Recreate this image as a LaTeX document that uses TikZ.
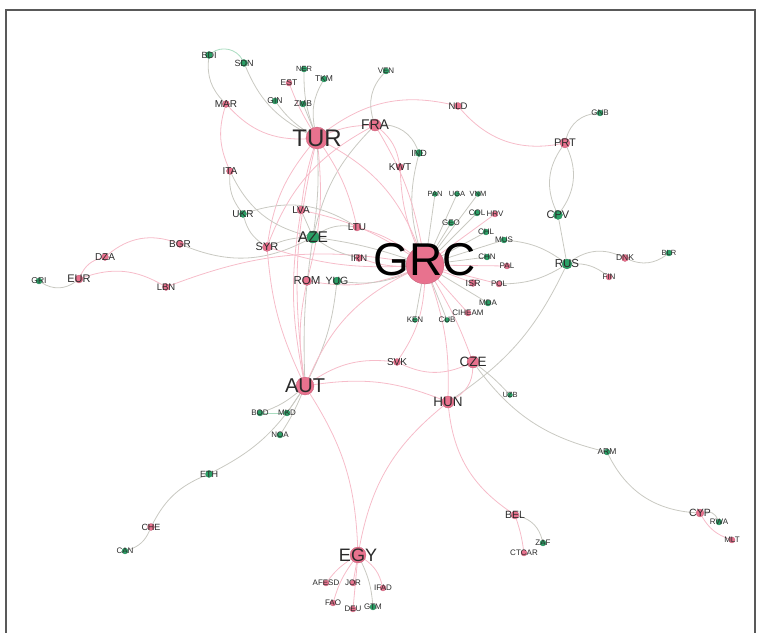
\documentclass[tikz,border=0pt]{standalone}
\usepackage{fontspec}
\setmainfont{Liberation Sans}
\usepackage{xcolor}
\usepackage{tikz}
\usetikzlibrary{positioning}

\definecolor{rose}{HTML}{E8728E}
\definecolor{leaf}{HTML}{2AA066}
\definecolor{pinkedge}{HTML}{F6BCC9}
\definecolor{greyedge}{HTML}{C9C9C2}
\definecolor{greenedge}{HTML}{A9DCC0}
\definecolor{labelgrey}{HTML}{2A2A2A}

\pgfdeclarelayer{bg}
\pgfsetlayers{bg,main}

\begin{document}
\begin{tikzpicture}[x=1pt, y=-1pt,
    pk/.style={circle, fill=rose, draw=rose!80!black, line width=0.25pt, inner sep=0pt, minimum size=#1},
    gr/.style={circle, fill=leaf, draw=leaf!80!black, line width=0.25pt, inner sep=0pt, minimum size=#1},
    lb/.style={font=\fontsize{#1}{#1}\selectfont, text=labelgrey, inner sep=0pt},
    pp/.style={draw=pinkedge, line width=0.8pt},
    gg/.style={draw=greyedge, line width=0.8pt},
    ll/.style={draw=greenedge, line width=0.8pt}
]
\useasboundingbox (0,0) rectangle (757,632);
\draw[black!65, line width=1.2pt] (6,640) -- (6,10) -- (755,10) -- (755,640);

% top
\node[gr=7, label={[lb=9]center:BDI}] (BDI) at (209,55) {};
\node[gr=7, label={[lb=9]center:SDN}] (SDN) at (244,63) {};
\node[gr=6, label={[lb=7.5]center:NER}] (NER) at (304,69) {};
\node[gr=6, label={[lb=8.5]center:TKM}] (TKM) at (324,79) {};
\node[pk=6, label={[lb=8.5]center:EST}] (EST) at (289,83) {};
\node[gr=6, label={[lb=8.5]center:GIN}] (GIN) at (275,101) {};
\node[gr=6, label={[lb=8.5]center:ZMB}] (ZMB) at (303,104) {};
\node[pk=7, label={[lb=10]center:MAR}] (MAR) at (226,104) {};
\node[pk=22, label={[lb=24]center:TUR}] (TUR) at (317,138) {};
\node[gr=6, label={[lb=8]center:VEN}] (VEN) at (386,71) {};
\node[pk=7, label={[lb=9.5]center:NLD}] (NLD) at (458,106) {};
\node[pk=12, label={[lb=14]center:FRA}] (FRA) at (375,125) {};
\node[gr=6, label={[lb=8]center:GNB}] (GNB) at (600,113) {};
\node[pk=10, label={[lb=11]center:PRT}] (PRT) at (565,143) {};
\node[gr=7, label={[lb=9]center:IND}] (IND) at (419,153) {};
\node[pk=7, label={[lb=10]center:KWT}] (KWT) at (400,167) {};

% left
\node[pk=7, label={[lb=10]center:ITA}] (ITA) at (230,171) {};
\node[gr=7, label={[lb=10]center:UKR}] (UKR) at (243,214) {};
\node[pk=7, label={[lb=10]center:BGR}] (BGR) at (180,244) {};
\node[pk=9, label={[lb=11]center:SYR}] (SYR) at (267,247) {};
\node[pk=7, label={[lb=10]center:DZA}] (DZA) at (105,257) {};
\node[pk=8, label={[lb=11]center:EUR}] (EUR) at (79,279) {};
\node[gr=6, label={[lb=8.5]center:GRI}] (GRI) at (39,281) {};
\node[pk=7, label={[lb=9.5]center:LBN}] (LBN) at (166,287) {};
\node[pk=8, label={[lb=10]center:LVA}] (LVA) at (301,210) {};
\node[gr=12, label={[lb=15.5]center:AZE}] (AZE) at (313,237) {};
\node[pk=8, label={[lb=10]center:LTU}] (LTU) at (357,227) {};
\node[pk=7, label={[lb=9.5]center:IRN}] (IRN) at (359,258) {};
\node[pk=9, label={[lb=11.5]center:ROM}] (ROM) at (307,281) {};
\node[gr=8, label={[lb=10.5]center:YUG}] (YUG) at (337,281) {};

% centre
\node[pk=38, label={[lb=46, text=black, yshift=5pt]center:GRC}] (GRC) at (425,265) {};
\node[gr=5, label={[lb=7.5]center:PAN}] (PAN) at (435,194) {};
\node[gr=5, label={[lb=7.5]center:UGA}] (UGA) at (457,194) {};
\node[gr=5, label={[lb=7.5]center:VNM}] (VNM) at (478,194) {};
\node[gr=6, label={[lb=8]center:GEO}] (GEO) at (451,223) {};
\node[gr=6, label={[lb=8]center:COL}] (COL) at (477,213) {};
\node[pk=6, label={[lb=8]center:HRV}] (HRV) at (495,214) {};
\node[gr=6, label={[lb=8]center:CHL}] (CHL) at (486,232) {};
\node[gr=6, label={[lb=8]center:MUS}] (MUS) at (504,240) {};
\node[gr=6, label={[lb=8]center:CHN}] (CHN) at (487,257) {};
\node[pk=6, label={[lb=8]center:PAL}] (PAL) at (507,266) {};
\node[pk=7, label={[lb=9]center:ISR}] (ISR) at (473,283) {};
\node[pk=6, label={[lb=8]center:POL}] (POL) at (499,284) {};
\node[gr=6, label={[lb=8]center:MDA}] (MDA) at (488,303) {};
\node[pk=6, label={[lb=8]center:CIHEAM}] (CIHEAM) at (468,313) {};
\node[gr=5, label={[lb=8]center:KEN}] (KEN) at (415,320) {};
\node[gr=5, label={[lb=8]center:CUB}] (CUB) at (447,320) {};

% right
\node[gr=9, label={[lb=11]center:CPV}] (CPV) at (558,215) {};
\node[gr=10, label={[lb=11.5]center:RUS}] (RUS) at (567,264) {};
\node[pk=7, label={[lb=8.5]center:DNK}] (DNK) at (625,258) {};
\node[gr=6, label={[lb=7.5]center:BLR}] (BLR) at (669,253) {};
\node[pk=6, label={[lb=8]center:FIN}] (FIN) at (609,277) {};

% lower half
\node[pk=7, label={[lb=10]center:SVK}] (SVK) at (397,362) {};
\node[pk=12, label={[lb=13.5]center:CZE}] (CZE) at (473,362) {};
\node[pk=18, label={[lb=20]center:AUT}] (AUT) at (305,386) {};
\node[pk=12, label={[lb=13.5]center:HUN}] (HUN) at (448,402) {};
\node[gr=6, label={[lb=8]center:BOD}] (BOD) at (260,413) {};
\node[gr=6, label={[lb=8]center:MKD}] (MKD) at (287,413) {};
\node[gr=6, label={[lb=8]center:NOA}] (NOA) at (280,435) {};
\node[gr=5, label={[lb=7.5]center:UZB}] (UZB) at (510,395) {};
\node[gr=6, label={[lb=8.5]center:ARM}] (ARM) at (607,452) {};
\node[gr=7, label={[lb=9]center:ETH}] (ETH) at (209,474) {};
\node[pk=7, label={[lb=9]center:CHE}] (CHE) at (151,527) {};
\node[gr=6, label={[lb=8]center:CAN}] (CAN) at (125,551) {};
\node[pk=16, label={[lb=18]center:EGY}] (EGY) at (358,555) {};
\node[pk=6, label={[lb=8]center:AFESD}] (AFESD) at (326,583) {};
\node[pk=6, label={[lb=8]center:JOR}] (JOR) at (353,583) {};
\node[pk=6, label={[lb=8]center:IFAD}] (IFAD) at (383,588) {};
\node[pk=6, label={[lb=8]center:FAO}] (FAO) at (333,603) {};
\node[pk=6, label={[lb=8]center:DEU}] (DEU) at (353,609) {};
\node[gr=6, label={[lb=8]center:GTM}] (GTM) at (373,607) {};
\node[pk=8, label={[lb=10.5]center:BEL}] (BEL) at (515,515) {};
\node[gr=6, label={[lb=8]center:ZAF}] (ZAF) at (543,543) {};
\node[pk=6, label={[lb=8]center:CTCAR}] (CTCAR) at (524,553) {};
\node[pk=8, label={[lb=10.5]center:CYP}] (CYP) at (700,513) {};
\node[gr=6, label={[lb=8]center:RWA}] (RWA) at (719,522) {};
\node[pk=6, label={[lb=8]center:MLT}] (MLT) at (732,540) {};

\begin{pgfonlayer}{bg}
% top
\draw[ll] (BDI) to[bend left=50] (SDN);
\draw[gg] (BDI) to[bend right=25] (MAR);
\draw[gg] (SDN) to[bend right=20] (TUR);
\draw[gg] (GIN) to[bend right=10] (TUR);
\draw[pp] (EST) to[bend right=5] (TUR);
\draw[gg] (NER) to[bend right=10] (TUR);
\draw[gg] (TKM) to[bend right=20] (TUR);
\draw[gg] (ZMB) to (TUR);
\draw[pp] (MAR) to[bend right=25] (TUR);
\draw[pp] (MAR) to[bend right=20] (ITA);
\draw[pp] (TUR) to[bend left=10] (FRA);
\draw[pp] (TUR) to[bend left=25] (NLD);
\draw[pp] (NLD) to[bend right=30] (PRT);
\draw[gg] (PRT) to[bend left=35] (GNB);
\draw[gg] (PRT) to[bend right=30] (CPV);
\draw[gg] (CPV) to[bend right=30] (PRT);
\draw[gg] (CPV) to (RUS);
\draw[gg] (VEN) to[bend right=30] (FRA);
\draw[gg] (FRA) to[bend left=35] (IND);
\draw[gg] (IND) to[bend right=15] (GRC);
\draw[pp] (FRA) to[bend left=20] (KWT);
\draw[pp] (KWT) to[bend right=10] (GRC);
\draw[pp] (FRA) to[bend left=10] (GRC);
\draw[pp] (FRA) to[bend right=20] (SYR);
\draw[gg] (FRA) to[bend right=15] (AZE);
\draw[pp] (TUR) to[bend left=20] (GRC);
\draw[pp] (TUR) to[bend left=10] (LTU);
\draw[pp] (TUR) to[bend right=5] (LVA);
\draw[pp] (TUR) to[bend right=15] (SYR);
\draw[pp] (TUR) to[bend left=10] (ROM);
\draw[pp] (TUR) to[bend right=10] (AUT);
\draw[gg] (TUR) to[bend left=5] (AZE);
% left
\draw[gg] (ITA) to[bend right=20] (UKR);
\draw[gg] (ITA) to[bend right=25] (AZE);
\draw[gg] (UKR) to[bend right=20] (SYR);
\draw[gg] (UKR) to[bend left=25] (LTU);
\draw[pp] (EUR) to[bend left=25] (DZA);
\draw[pp] (DZA) to[bend left=30] (BGR);
\draw[gg] (GRI) to[bend right=35] (EUR);
\draw[pp] (EUR) to[bend left=25] (LBN);
\draw[pp] (LBN) to[bend left=15] (GRC);
\draw[gg] (BGR) to[bend right=25] (AZE);
\draw[gg] (SYR) to[bend left=10] (AZE);
\draw[pp] (SYR) to[bend right=10] (GRC);
\draw[pp] (SYR) to[bend right=10] (AUT);
\draw[gg] (AZE) to[bend left=20] (LTU);
\draw[pp] (LTU) to[bend left=10] (GRC);
\draw[gg] (AZE) to[bend right=10] (IRN);
\draw[pp] (IRN) to[bend right=10] (GRC);
\draw[gg] (AZE) to[bend left=5] (GRC);
\draw[gg] (LVA) to (AZE);
\draw[pp] (LVA) to[bend left=10] (GRC);
\draw[pp] (LVA) to[bend right=10] (AUT);
\draw[pp] (ROM) to[bend right=15] (GRC);
\draw[gg] (YUG) to[bend right=15] (GRC);
\draw[pp] (ROM) to[bend right=10] (AUT);
\draw[gg] (YUG) to[bend left=10] (AUT);
\draw[gg] (AZE) to[bend right=5] (AUT);
% centre
\draw[gg] (GRC) to (PAN);
\draw[gg] (GRC) to (UGA);
\draw[gg] (GRC) to (VNM);
\draw[gg] (GRC) to (GEO);
\draw[gg] (GRC) to (COL);
\draw[pp] (GRC) to (HRV);
\draw[gg] (GRC) to (CHL);
\draw[gg] (GRC) to (MUS);
\draw[gg] (GRC) to (CHN);
\draw[pp] (GRC) to (PAL);
\draw[pp] (GRC) to (ISR);
\draw[pp] (GRC) to (POL);
\draw[gg] (GRC) to (MDA);
\draw[pp] (GRC) to (CIHEAM);
\draw[gg] (GRC) to (KEN);
\draw[gg] (GRC) to (CUB);
% right
\draw[gg] (MUS) to[bend left=15] (RUS);
\draw[gg] (POL) to[bend right=15] (RUS);
\draw[gg] (RUS) to[bend left=30] (DNK);
\draw[gg] (RUS) to[bend left=20] (FIN);
\draw[gg] (DNK) to[bend right=30] (BLR);
\draw[gg] (HUN) to[bend right=15] (RUS);
% lower right
\draw[gg] (CZE) to[bend left=5] (UZB);
\draw[gg] (CZE) to[bend right=20] (ARM);
\draw[gg] (ARM) to[bend right=30] (CYP);
\draw[gg] (CYP) to[bend left=40] (RWA);
\draw[pp] (CYP) to[bend right=20] (MLT);
\draw[pp] (HUN) to[bend right=25] (BEL);
\draw[gg] (BEL) to[bend left=30] (ZAF);
\draw[pp] (BEL) to[bend left=5] (CTCAR);
% AUT, SVK, CZE, HUN
\draw[pp] (AUT) to[bend left=20] (SVK);
\draw[pp] (AUT) to[bend left=15] (HUN);
\draw[pp] (SVK) to[bend right=25] (CZE);
\draw[pp] (SVK) to[bend right=15] (GRC);
\draw[pp] (CZE) to[bend right=5] (GRC);
\draw[pp] (HUN) to[bend right=10] (GRC);
\draw[pp] (HUN) to[bend right=30] (CZE);
\draw[pp] (AUT) to[bend left=20] (GRC);
\draw[pp] (AUT) to[bend left=15] (EGY);
\draw[pp] (HUN) to[bend right=20] (EGY);
% EGY
\draw[pp] (EGY) to[bend right=10] (AFESD);
\draw[pp] (EGY) to (JOR);
\draw[pp] (EGY) to[bend left=20] (IFAD);
\draw[pp] (EGY) to[bend right=10] (FAO);
\draw[pp] (EGY) to (DEU);
\draw[gg] (EGY) to[bend left=10] (GTM);
% AUT lower left
\draw[gg] (AUT) to[bend left=10] (BOD);
\draw[gg] (AUT) to (MKD);
\draw[gg] (AUT) to[bend left=5] (NOA);
\draw[ll] (BOD) to (MKD);
\draw[gg] (AUT) to[bend left=15] (ETH);
\draw[gg] (ETH) to[bend right=20] (CHE);
\draw[gg] (CHE) to[bend left=25] (CAN);
\end{pgfonlayer}
\end{tikzpicture}
\end{document}
